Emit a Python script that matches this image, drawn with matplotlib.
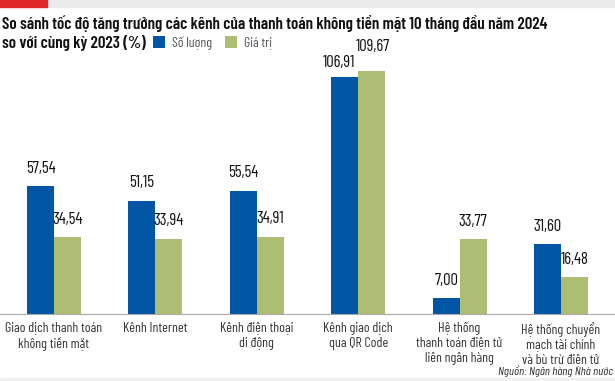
import numpy as np
import matplotlib.pyplot as plt
from matplotlib.patches import Rectangle

categories = ["Giao dịch thanh toán\nkhông tiền mặt", "Kênh Internet",
              "Kênh điện thoại\ndi động", "Kênh giao dịch\nqua QR Code",
              "Hệ thống\nthanh toán điện tử\nliên ngân hàng",
              "Hệ thống chuyển\nmạch tài chính\nvà bù trừ điện tử"]
so_luong = [57.54, 51.15, 55.54, 106.91, 7.00, 31.60]
gia_tri = [34.54, 33.94, 34.91, 109.67, 33.77, 16.48]

blue = '#0055a5'
green = '#aebd74'
plt.rcParams['font.family'] = ['Barlow Condensed', 'Roboto', 'DejaVu Sans']

W, H = 615, 381
fig = plt.figure(figsize=(W/100, H/100), dpi=100)
fig.patch.set_facecolor('white')

# bands at the top and bottom
fig.patches.append(Rectangle((0, 1-7/H), 1, 7/H, transform=fig.transFigure, color='#ebebeb', zorder=0))
fig.patches.append(Rectangle((0, 1-7/H), 47/W, 7/H, transform=fig.transFigure, color='#e0262b', zorder=1))
fig.patches.append(Rectangle((0, 0), 1, 3/H, transform=fig.transFigure, color='#f0f0f0', zorder=0))

ax = fig.add_axes([0, 1-314/H, 1, (314-60)/H])
x = np.arange(len(categories))
bw = 0.266
b1 = ax.bar(x - bw/2, so_luong, bw, color=blue, label='Số lượng')
b2 = ax.bar(x + bw/2, gia_tri, bw, color=green, label='Giá trị')

def fmt(v):
    return ('%.2f' % v).replace('.', ',')

# label offsets (points); the QR pair is nudged so the two labels don't collide
offs = {(0, 3): (-4, 5), (1, 3): (1, 12.5)}
for k, (bars, vals) in enumerate(((b1, so_luong), (b2, gia_tri))):
    for i, (r, v) in enumerate(zip(bars, vals)):
        dx, dy = offs.get((k, i), (0, 7.5))
        ax.annotate(fmt(v), (r.get_x() + r.get_width()/2, v), xytext=(dx, dy),
                    textcoords='offset points', ha='center', va='bottom',
                    fontsize=12, color='#111111')

ax.set_xlim(-54/101.4, (W-54)/101.4)
ax.set_ylim(0, (314-60)/2.217)
ax.set_xticks(x)
ax.set_xticklabels(categories, fontsize=10, color='#333333', linespacing=1.2)
ax.tick_params(axis='x', length=0, pad=5.5)
ax.set_yticks([])
for s in ['top', 'left', 'right']:
    ax.spines[s].set_visible(False)
ax.spines['bottom'].set_color('#aaaaaa')
ax.spines['bottom'].set_linewidth(0.8)

fig.text(2/W, 1-24/H, "So sánh tốc độ tăng trưởng các kênh của thanh toán không tiền mặt 10 tháng đầu năm 2024",
         fontsize=12.2, fontweight='semibold', color='#111111', va='center', ha='left')
fig.text(2/W, 1-43/H, "so với cùng kỳ 2023 (%)", fontsize=12.2, fontweight='semibold',
         color='#111111', va='center', ha='left')

fig.legend(handles=[b1, b2], labels=['Số lượng', 'Giá trị'], loc='center left',
           bbox_to_anchor=(147/W, 1-43/H), ncol=2, frameon=False, fontsize=10,
           handlelength=0.9, handleheight=0.9, handletextpad=0.5, columnspacing=0.9,
           labelcolor='#555555', borderaxespad=0)

fig.text(613/W, 1-371/H, "Nguồn: Ngân hàng Nhà nước", fontsize=8.9, style='italic',
         color='#333333', ha='right', va='center')

fig.savefig('out.png', dpi=100)
